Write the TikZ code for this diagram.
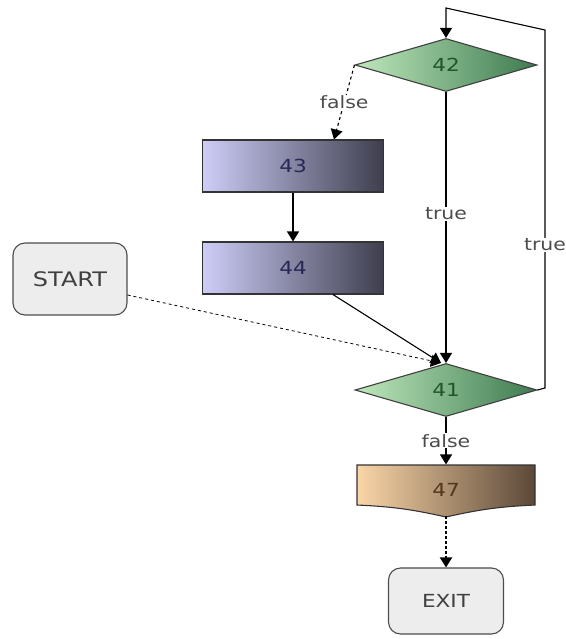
\documentclass[tikz,border=0pt]{standalone}
\usepackage{fontspec}
\setmainfont{DejaVu Sans}[FakeStretch=1.2]
\usepackage{tikz}
\usetikzlibrary{shapes.geometric,arrows.meta}

\definecolor{lav}{RGB}{205,205,248}
\definecolor{slate}{RGB}{62,62,78}
\definecolor{mint}{RGB}{190,232,188}
\definecolor{leaf}{RGB}{62,122,80}
\definecolor{sand}{RGB}{250,214,168}
\definecolor{umber}{RGB}{92,72,56}
\definecolor{navytxt}{RGB}{40,40,85}
\definecolor{greentxt}{RGB}{35,85,45}
\definecolor{browntxt}{RGB}{85,55,30}

\begin{document}
\begin{tikzpicture}[x=1pt, y=-1pt, line width=1.1pt,
  font=\fontsize{17}{19}\selectfont,
  >={Triangle[width=12pt,length=10pt]},
  test/.style={diamond, draw=black!75, inner sep=0pt, minimum width=182pt, minimum height=53pt,
    left color=mint, right color=leaf, text=greentxt, font=\fontsize{18}{20}\selectfont},
  block/.style={rectangle, draw=black!80, minimum width=181pt, minimum height=52pt,
    left color=lav, right color=slate, text=navytxt, font=\fontsize{18}{20}\selectfont},
  term/.style={rectangle, rounded corners=12pt, draw=black!70, fill=black!7, text=black!75,
    font=\fontsize{18}{20}\selectfont},
  lbl/.style={fill=white, inner sep=1pt, text=black!70}]
\useasboundingbox (0,0) rectangle (565,639);

\node [test] (n42) at (446,65) {42};
\node [block] (n43) at (293,166) {43};
\node [block] (n44) at (293,268) {44};
\node [term, minimum width=114pt, minimum height=72pt, font=\fontsize{20}{22}\selectfont] (start) at (70,279) {START};
\node [test] (n41) at (446,390) {41};

% block 47 with the notched bottom
\shade [left color=sand, right color=umber, draw=black!80]
  (357,465) -- (535,465) -- (535,505) to[bend right=5] (446,517) to[bend right=5] (357,505) -- cycle;
\node [minimum width=178pt, minimum height=50pt, text=browntxt, font=\fontsize{18}{20}\selectfont] (n47) at (446,490) {47};
\node [term, minimum width=115pt, minimum height=66pt] (exit) at (446,601) {EXIT};

\coordinate (loopb) at (545,388);
\coordinate (loopt) at (545,30);
\coordinate (loopc) at (446,8);

\draw [->] (n41.east) -- (loopb) -- node [lbl, pos=0.4] {true} (loopt) -- (loopc) -- (n42.north);
\draw [->] (n42.south) -- node [lbl, pos=0.45] {true} (n41.north);
\draw [->, dashed] (n42.west) -- node [lbl] {false} ([xshift=41pt]n43.north);
\draw [->] (n43) -- (n44);
\draw [->] ([xshift=40pt]n44.south) -- ([xshift=-5pt]n41.north);
\draw [->, dashed, line width=0.8pt] ([yshift=-16pt]start.east) -- ([xshift=-5pt]n41.north);
\draw [->] (n41.south) -- node [lbl] {false} (n47.north);
\draw [->, line width=2pt, dash pattern=on 3pt off 2pt] (n47.south) -- (exit.north);%dotted
\end{tikzpicture}
\end{document}
